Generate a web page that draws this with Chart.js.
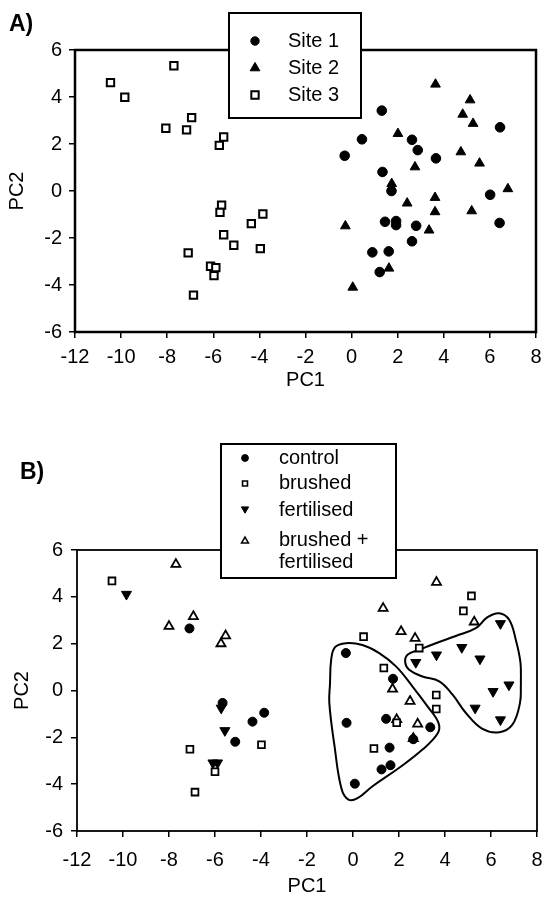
<!DOCTYPE html>
<html><head><meta charset="utf-8">
<script src="https://cdn.jsdelivr.net/npm/chart.js@4/dist/chart.umd.min.js"></script>
<style>
html,body{margin:0;padding:0;background:#fff;}
#wrap{position:relative;width:544px;height:899px;overflow:hidden;background:#fff;}
#wrap canvas{position:absolute;left:0;}
.lab{position:absolute;font:bold 23px "Liberation Sans",Arial,sans-serif;color:#000;line-height:1;}
</style></head><body>
<div id="wrap">
<canvas id="cA" width="544" height="420" style="top:0;width:544px;height:420px"></canvas>
<canvas id="cB" width="544" height="479" style="top:420px;width:544px;height:479px"></canvas>
<div class="lab" style="left:9px;top:12px">A)</div>
<div class="lab" style="left:20px;top:460px">B)</div>
</div>
<script>
// ---------- DATA ----------
const xTicks = [-12,-10,-8,-6,-4,-2,0,2,4,6,8];
const yTicks = [-6,-4,-2,0,2,4,6];
const axisTitleX = 'PC1';
const axisTitleY = 'PC2';

// Panel A
const labelsA = ['Site 1','Site 2','Site 3'];
const site1 = [[1.31,3.42],[6.44,2.71],[0.45,2.20],[2.62,2.18],[2.87,1.74],[-0.30,1.50],[3.66,1.39],[1.34,0.81],[1.73,0.00],[6.01,-0.16],[1.45,-1.31],[1.93,-1.28],[1.93,-1.45],[2.80,-1.48],[6.42,-1.36],[2.62,-2.14],[0.90,-2.61],[1.61,-2.57],[1.22,-3.45]];
const site2 = [[3.64,4.54],[5.14,3.87],[4.82,3.26],[5.27,2.87],[2.01,2.44],[4.74,1.66],[5.55,1.18],[2.75,1.02],[1.74,0.31],[6.78,0.09],[3.62,-0.28],[2.41,-0.52],[3.62,-0.89],[5.21,-0.85],[-0.27,-1.49],[3.36,-1.67],[1.62,-3.29],[0.05,-4.10]];
const site3 = [[-7.71,5.33],[-10.46,4.61],[-9.84,3.99],[-6.94,3.12],[-8.06,2.67],[-7.16,2.60],[-5.55,2.30],[-5.74,1.94],[-5.64,-0.60],[-5.71,-0.91],[-3.85,-0.98],[-4.35,-1.39],[-5.55,-1.86],[-5.11,-2.31],[-3.96,-2.45],[-7.09,-2.63],[-6.12,-3.20],[-5.89,-3.26],[-5.97,-3.60],[-6.86,-4.43]];

// Panel B
const labelsB = ['control','brushed','fertilised',['brushed +','fertilised']];
const control = [[-7.11,2.65],[-5.67,-0.53],[-3.86,-0.95],[-4.37,-1.33],[-5.12,-2.19],[-0.31,1.60],[1.74,0.50],[-0.28,-1.38],[1.44,-1.21],[3.36,-1.57],[2.62,-2.08],[1.59,-2.44],[1.63,-3.19],[1.24,-3.37],[0.08,-3.98]];
const brushed = [[-10.48,4.68],[-3.98,-2.32],[-7.09,-2.51],[-6.00,-3.47],[-6.87,-4.34],[5.15,4.04],[4.80,3.40],[0.46,2.30],[2.88,1.81],[1.34,0.96],[3.62,-0.19],[3.62,-0.79],[1.90,-1.38],[0.91,-2.48]];
const fertilised = [[-9.85,4.11],[-5.73,-0.75],[-5.57,-1.71],[-6.09,-3.09],[-5.89,-3.09],[6.41,2.86],[3.63,1.52],[4.73,1.84],[5.52,1.35],[2.73,1.20],[6.78,0.24],[6.09,-0.04],[5.31,-0.75],[6.41,-1.25]];
const brushedFert = [[-7.70,5.39],[-6.94,3.16],[-8.00,2.74],[-5.54,2.34],[-5.74,2.00],[3.63,4.62],[5.27,2.93],[1.31,3.51],[2.09,2.52],[2.70,2.23],[1.72,0.06],[2.48,-0.46],[1.90,-1.24],[2.81,-1.43],[2.62,-2.05]];

// Hand-drawn group outlines in panel B (data coordinates)
const hullControl = [[-1.00,0.30],[-0.95,1.30],[-0.78,1.85],[-0.31,2.02],[0.41,1.94],[1.14,1.60],[1.87,1.03],[2.59,0.17],[3.24,-0.68],[3.72,-1.39],[3.67,-1.85],[3.02,-2.52],[2.01,-3.30],[0.85,-4.09],[0.20,-4.60],[-0.20,-4.66],[-0.50,-4.20],[-0.80,-2.40],[-1.03,-0.53],[-1.00,0.30]];
const hullFert = [[7.30,0.30],[7.28,1.20],[7.08,2.16],[6.79,3.02],[6.36,3.30],[5.85,3.13],[5.34,2.66],[4.47,2.33],[3.60,2.02],[2.88,1.74],[2.37,1.53],[2.27,1.20],[2.44,0.89],[3.02,0.60],[3.75,0.39],[4.33,-0.18],[4.91,-0.96],[5.63,-1.64],[6.36,-1.78],[6.93,-1.46],[7.26,-0.53],[7.30,0.30]];

// ---------- HELPERS ----------
const FONT = '"Liberation Sans", Arial, Helvetica, sans-serif';
Chart.defaults.font.family = FONT;
Chart.defaults.color = '#000';
const pts = a => a.map(p => ({x:p[0], y:p[1]}));
const noPad = s => { s.paddingLeft = 0; s.paddingRight = 0; s.paddingTop = 0; s.paddingBottom = 0; };

function scales(o){
  return {
    x:{type:'linear',min:-12,max:8,
       afterBuildTicks:s=>{s.ticks = xTicks.map(v=>({value:v}));},
       ticks:{font:{size:20},color:'#000',padding:o.xPad,maxRotation:0,autoSkip:false,callback:v=>String(v).replace('\u2212','-')},
       grid:{display:true,drawOnChartArea:false,drawTicks:true,tickLength:6,color:'#000',lineWidth:1.5},
       border:{display:false},
       title:{display:true,text:axisTitleX,font:{size:20},color:'#000',padding:{top:0,bottom:o.xTitlePad}},
       afterFit:s=>{s.height=o.xH; noPad(s);}},
    y:{type:'linear',min:-6,max:6,
       afterBuildTicks:s=>{s.ticks = yTicks.map(v=>({value:v}));},
       ticks:{font:{size:20},color:'#000',padding:o.yPad,autoSkip:false,callback:v=>String(v)},
       grid:{display:true,drawOnChartArea:false,drawTicks:true,tickLength:6,color:'#000',lineWidth:1.5},
       border:{display:false},
       title:{display:true,text:axisTitleY,font:{size:20},color:'#000',padding:{top:o.yTitlePad,bottom:0}},
       afterFit:s=>{s.width=o.yW; noPad(s);}}
  };
}

function drawMarker(ctx, st, x, y){
  if (Chart.helpers && Chart.helpers.drawPoint){
    ctx.save();
    ctx.fillStyle = st.bg; ctx.strokeStyle = '#000'; ctx.lineWidth = st.bw;
    Chart.helpers.drawPoint(ctx,{pointStyle:st.style,rotation:st.rot||0,radius:st.r,borderWidth:st.bw},x,y);
    ctx.restore();
  }
}

const framePlugin = {
  id:'frame',
  beforeDatasetsDraw(chart, args, opts){
    const a = chart.chartArea, ctx = chart.ctx;
    ctx.save();
    ctx.strokeStyle = '#000'; ctx.lineWidth = opts.lw;
    ctx.strokeRect(a.left, a.top, a.right-a.left, a.bottom-a.top);
    ctx.restore();
  },
  afterDraw(chart, args, opts){
    const L = opts.legend, ctx = chart.ctx;
    ctx.save();
    ctx.fillStyle = '#fff';
    ctx.fillRect(L.box[0],L.box[1],L.box[2],L.box[3]);
    ctx.strokeStyle = '#000'; ctx.lineWidth = L.lw;
    ctx.strokeRect(L.box[0],L.box[1],L.box[2],L.box[3]);
    ctx.font = L.size + 'px ' + FONT;
    ctx.textBaseline = 'middle'; ctx.textAlign = 'left'; ctx.fillStyle = '#000';
    L.items.forEach((it,i)=>{
      const y = L.rows[i];
      drawMarker(ctx, it.st, L.mx, y + (it.st.dy||0));
      const lines = Array.isArray(it.label) ? it.label : [it.label];
      lines.forEach((t,j)=>{ ctx.fillStyle='#000'; ctx.fillText(t, L.tx, y + j*L.lh); });
    });
    ctx.restore();
  }
};

// ---------- PANEL A ----------
const stA = [
  {style:'circle',r:4.8,bw:1,bg:'#000'},
  {style:'triangle',r:5.6,bw:1,bg:'#000'},
  {style:'rect',r:5.2,bw:2,bg:'#fff'}
];
const dataA = [site1, site2, site3];
new Chart(document.getElementById('cA'),{
  type:'scatter',
  data:{datasets: dataA.map((d,i)=>({label:labelsA[i],data:pts(d),pointStyle:stA[i].style,pointRadius:stA[i].r,pointBorderWidth:stA[i].bw,backgroundColor:stA[i].bg,borderColor:'#000',pointHoverRadius:stA[i].r}))},
  options:{responsive:false,animation:false,
    layout:{padding:{left:0,right:8,top:50,bottom:0}},
    plugins:{legend:{display:false},tooltip:{enabled:false},
      frame:{lw:2.5,legend:{box:[229,13,132,105],lw:2,size:20,mx:255,tx:288,lh:22,rows:[41,68,95],
        items:labelsA.map((l,i)=>({label:l,st:Object.assign({},stA[i],i===0?{r:4.2}:{} )}))}}},
    scales:scales({xPad:7,xTitlePad:28,xH:88,yPad:7,yTitlePad:5.5,yW:75})
  },
  plugins:[framePlugin]
});

// ---------- PANEL B ----------
const stB = [
  {style:'circle',r:4.5,bw:1,bg:'#000'},
  {style:'rect',r:4.8,bw:1.8,bg:'#fff'},
  {style:'triangle',r:5.8,bw:1,bg:'#000',rot:180},
  {style:'triangle',r:5.2,bw:1.8,bg:'#fff'}
];
const stBleg = [
  {style:'circle',r:3.4,bw:1,bg:'#000'},
  {style:'rect',r:3.5,bw:1.6,bg:'#fff'},
  {style:'triangle',r:4.2,bw:1,bg:'#000',rot:180,dy:-1},
  {style:'triangle',r:3.9,bw:1.6,bg:'#fff',dy:1}
];
const dataB = [control, brushed, fertilised, brushedFert];
const dsB = dataB.map((d,i)=>({label:Array.isArray(labelsB[i])?labelsB[i].join(' '):labelsB[i],data:pts(d),pointStyle:stB[i].style,pointRotation:stB[i].rot||0,pointRadius:stB[i].r,pointBorderWidth:stB[i].bw,backgroundColor:stB[i].bg,borderColor:'#000',pointHoverRadius:stB[i].r,order:1}));
[hullControl, hullFert].forEach((h,i)=>dsB.push({label:'outline'+(i+1),data:pts(h),showLine:true,tension:0.4,pointRadius:0,borderColor:'#000',borderWidth:2,fill:false,order:2}));
new Chart(document.getElementById('cB'),{
  type:'scatter',
  data:{datasets:dsB},
  options:{responsive:false,animation:false,
    layout:{padding:{left:0,right:6,top:130,bottom:0}},
    plugins:{legend:{display:false},tooltip:{enabled:false},
      frame:{lw:1.8,legend:{box:[221,24,175,134],lw:2,size:20,mx:245,tx:279,lh:22,rows:[38,63.5,90,120],
        items:labelsB.map((l,i)=>({label:l,st:stBleg[i]}))}}},
    scales:scales({xPad:11,xTitlePad:1,xH:68,yPad:8,yTitlePad:10,yW:77})
  },
  plugins:[framePlugin]
});
</script>
</body></html>
